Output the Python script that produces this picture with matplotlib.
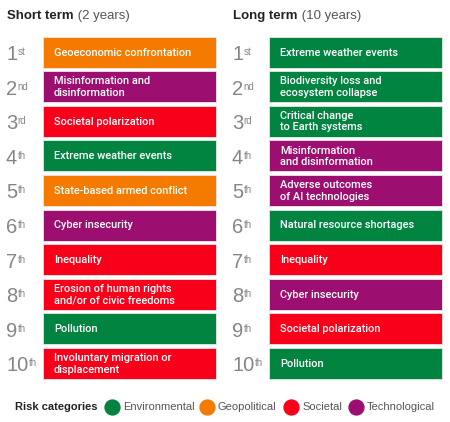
import matplotlib.pyplot as plt
from matplotlib.patches import Rectangle

plt.rcParams['font.family'] = ['Liberation Sans', 'DejaVu Sans']

colors = {
    'Environmental': '#00843F',
    'Geopolitical': '#F47B00',
    'Societal': '#F8001A',
    'Technological': '#9C0F70',
}

ranks = ['1', '2', '3', '4', '5', '6', '7', '8', '9', '10']
suffixes = ['st', 'nd', 'rd', 'th', 'th', 'th', 'th', 'th', 'th', 'th']

short_risks = ['Geoeconomic confrontation', 'Misinformation and\ndisinformation',
               'Societal polarization', 'Extreme weather events',
               'State-based armed conflict', 'Cyber insecurity', 'Inequality',
               'Erosion of human rights\nand/or of civic freedoms', 'Pollution',
               'Involuntary migration or\ndisplacement']
short_cats = ['Geopolitical', 'Technological', 'Societal', 'Environmental',
              'Geopolitical', 'Technological', 'Societal', 'Societal',
              'Environmental', 'Societal']

long_risks = ['Extreme weather events', 'Biodiversity loss and\necosystem collapse',
              'Critical change\nto Earth systems', 'Misinformation\nand disinformation',
              'Adverse outcomes\nof AI technologies', 'Natural resource shortages',
              'Inequality', 'Cyber insecurity', 'Societal polarization', 'Pollution']
long_cats = ['Environmental', 'Environmental', 'Environmental', 'Technological',
             'Technological', 'Environmental', 'Societal', 'Technological',
             'Societal', 'Environmental']

fig = plt.figure(figsize=(4.5, 4.22), dpi=100)
ax = fig.add_axes([0, 0, 1, 1])
ax.set_xlim(0, 450)
ax.set_ylim(422, 0)
ax.axis('off')

top, pitch, h = 36.5, 34.6, 31
box_font = ['Roboto', 'Liberation Sans']


def column(x0, title, sub, risks, cats):
    t = ax.text(x0, 16, title, fontsize=9.5, fontweight='bold', color='#222222',
                va='center', ha='left')
    ax.annotate(' ' + sub, xy=(1, 0), xycoords=t, va='bottom', ha='left',
                fontsize=9.5, color='#555555')
    bx = x0 + 36
    for i, (r, c) in enumerate(zip(risks, cats)):
        y = top + i * pitch
        ax.add_patch(Rectangle((bx, y), 173, h, facecolor=colors[c],
                               edgecolor='#e8e8e8', lw=0.6))
        ax.text(bx + 11, y + h / 2 + 0.5, r, color='white', fontsize=7.9,
                fontweight='medium', family=box_font,
                va='center', ha='left', linespacing=1.15)
        n = ax.text(x0 - 1, y + h / 2 + 2.5, ranks[i], fontsize=14.5,
                    color='#858585', va='center', ha='left')
        ax.annotate(suffixes[i], xy=(1, 1), xycoords=n, xytext=(0.2, -1.5),
                    textcoords='offset points', va='top', ha='left',
                    fontsize=7, color='#858585')


column(7, 'Short term', '(2 years)', short_risks, short_cats)
column(233, 'Long term', '(10 years)', long_risks, long_cats)

# legend
ax.text(15, 407, 'Risk categories', fontsize=8, fontweight='bold',
        color='#222222', va='center', ha='left')
legend_x = [112, 207, 291, 356]
for cx, (name, col) in zip(legend_x, colors.items()):
    ax.scatter(cx, 407, s=115, color=col)
    ax.text(cx + 11, 407, name, fontsize=8, color='#555555',
            va='center', ha='left')

fig.savefig('out.png', dpi=100)
